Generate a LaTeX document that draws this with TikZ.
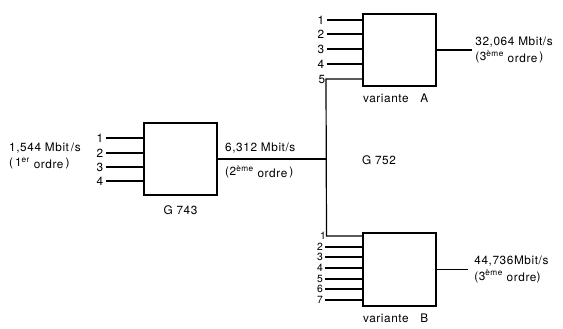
\documentclass[tikz,border=0pt]{standalone}
\usepackage{fontspec}
\setmainfont[LetterSpace=5]{TeX Gyre Heros}
\usetikzlibrary{positioning}

\begin{document}
\begin{tikzpicture}[x=1pt, y=-1pt,
  mux/.style={rectangle, draw, line width=2.4pt, minimum width=73pt,
              minimum height=72pt, inner sep=0pt},
  lbl/.style={font=\fontsize{11.8}{15.5}\selectfont, inner sep=1pt, align=left},
  num/.style={font=\fontsize{11.8}{10}\selectfont, inner sep=0.5pt, anchor=east},
  smallnum/.style={num, font=\fontsize{10.4}{10}\selectfont, inner sep=0pt},
  wire/.style={line width=1.2pt}
]
  \useasboundingbox (0,0) rectangle (563,329);
  % multiplexers
  \node[mux] (g743) at (180.5,159) {};
  \node[mux] (varA) at (399.5,50) {};
  \node[mux, minimum height=73pt] (varB) at (399.5,269.5) {};
  \node[lbl, below=8pt of g743] (g743lbl) {G 743};
  \node[lbl, anchor=north west] (varAlbl) at ([yshift=-5pt]varA.south west) {variante\quad A};
  \node[lbl, anchor=north west] (varBlbl) at ([yshift=-5pt]varB.south west) {variante\quad B};
  \node[lbl] (g752) at (379,160) {G 752};

  % inputs
  \foreach \i/\y in {1/138,2/153,3/167,4/181} {
    \node[num] (in\i) at (104,\y) {\i};
    \draw[wire] ([xshift=2pt]in\i.east) -- (in\i.east -| g743.west);
  }
  \foreach \i/\y in {1/20,2/34,3/49,4/64} {
    \node[num] (a\i) at (325,\y) {\i};
    \draw[wire] ([xshift=2pt]a\i.east) -- (a\i.east -| varA.west);
  }
  \node[num] (a5) at (326,79) {5};
  \foreach \i/\y in {2/247,3/257,4/268,5/279,6/289,7/300} {
    \node[smallnum] (b\i) at (323,\y) {\i};
    \draw[wire] ([xshift=2pt]b\i.east) -- (b\i.east -| varB.west);
  }
  \node[smallnum] (b1) at (326,236) {1};

  % 2nd order link
  \coordinate (jct) at (a5.east |- g743.east);
  \draw[wire] (g743.east) -- (jct);
  \draw[wire] (varA.west |- a5.east) -- (a5.east) -- ([xshift=0.5pt]b1.east)
    -- (b1.east -| varB.west);

  % outputs
  \draw[wire] (varA.east) -- ++(35,0) coordinate (outA);
  \draw[wire] (varB.east) -- ++(31,0) coordinate (outB);

  % rates
  \node[lbl, anchor=west] (rate1) at (8,156)
    {1,544 Mbit\,/s\\(\,1\textsuperscript{er} \raisebox{-1.5pt}{ordre}\,)};
  \node[lbl, anchor=west] (rate2a) at (224,148) {6,312 Mbit/s};
  \node[lbl, anchor=west] (rate2b) at (224,172)
    {(2\textsuperscript{ème} \raisebox{-1.5pt}{ordre}\,)};
  \node[lbl, anchor=west] (rateA) at ([xshift=2pt]outA)
    {32,064 Mbit/s\\(3\textsuperscript{ème} \raisebox{-1.5pt}{ordre}\,)};
  \node[lbl, anchor=west] (rateB) at ([xshift=5pt]outB)
    {44,736Mbit/s\\(3\textsuperscript{ème} \raisebox{-1.5pt}{ordre})};
\end{tikzpicture}
\end{document}
